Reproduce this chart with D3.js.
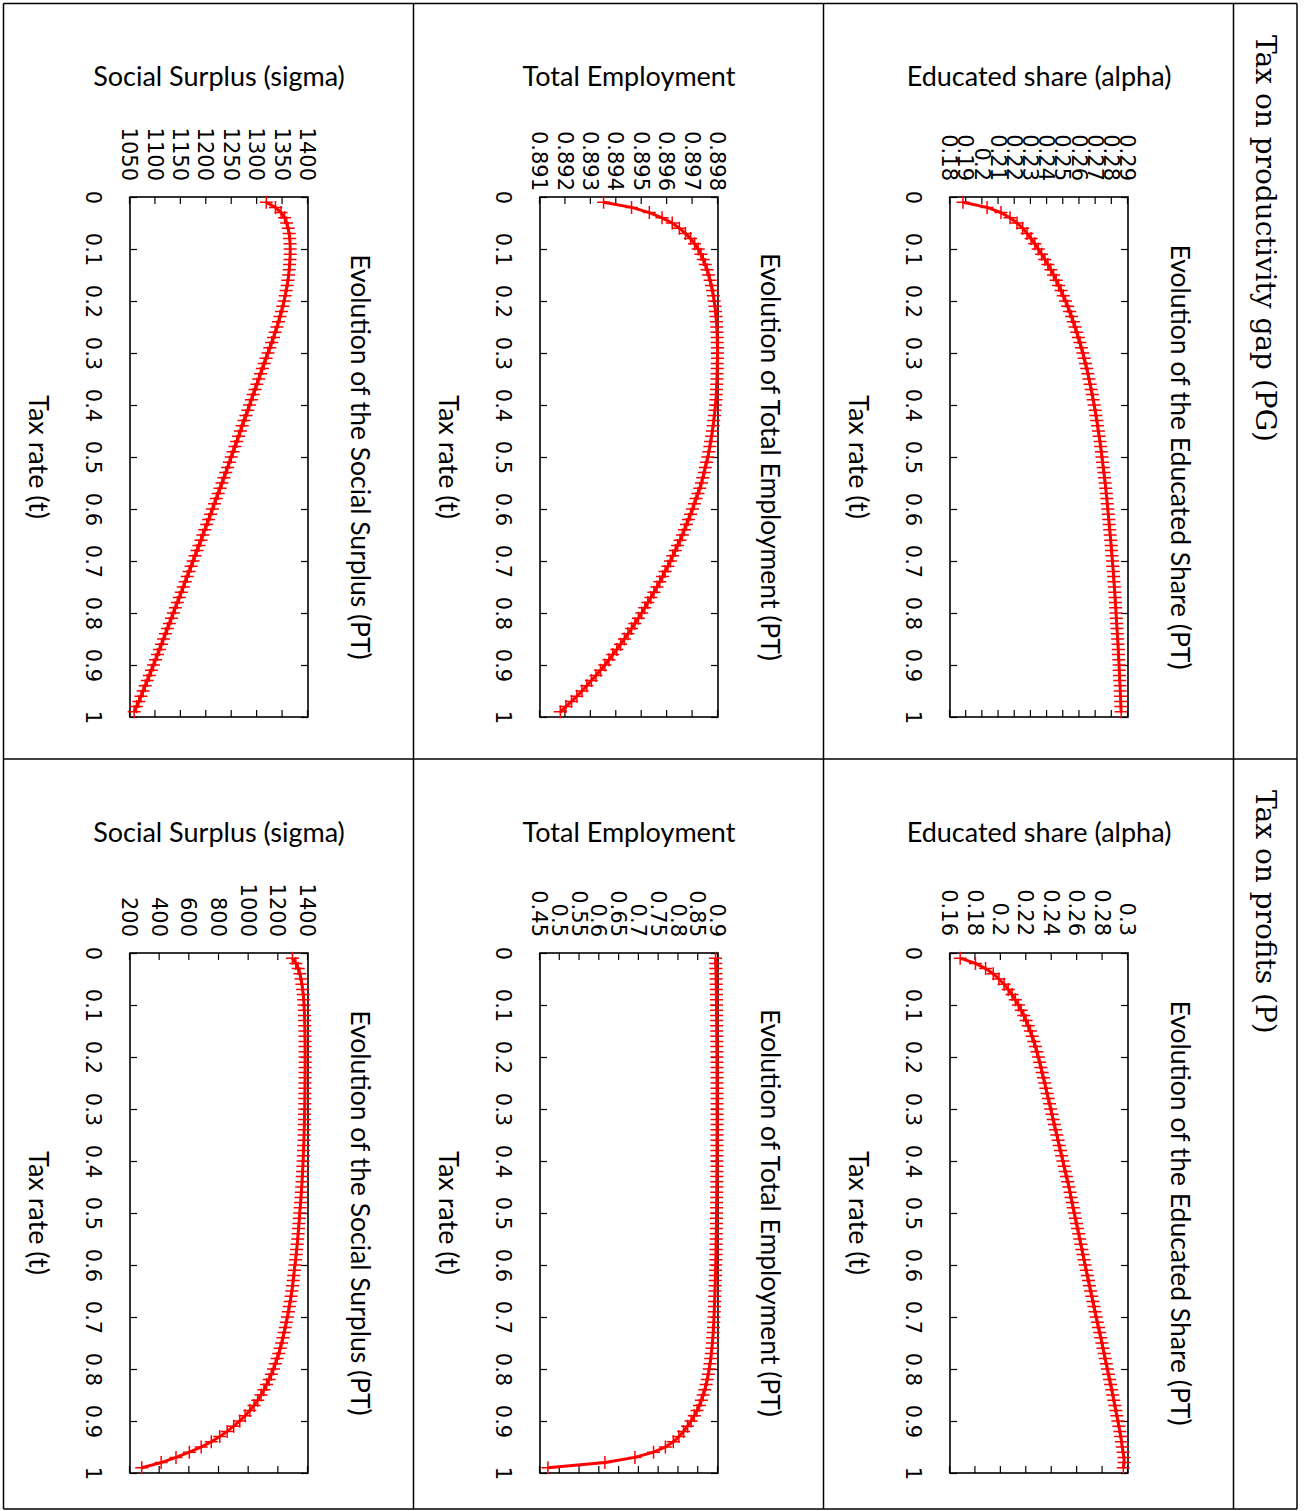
<!DOCTYPE html>
<html><head><meta charset="utf-8">
<script src="https://cdn.jsdelivr.net/npm/d3@7"></script>
<style>
body{margin:0;background:#fff;}
svg{display:block;}
text{font-family:Lato,"Open Sans",sans-serif;fill:#000;}
</style></head>
<body>
<svg id="c" width="1305" height="1511"></svg>
<script>
// ---------- data ----------
const taxRate = d3.range(1, 100).map(i => i / 100);   // 0.01 .. 0.99
const xTicks = [0,0.1,0.2,0.3,0.4,0.5,0.6,0.7,0.8,0.9,1];
const xTickLabels = ["0","0.1","0.2","0.3","0.4","0.5","0.6","0.7","0.8","0.9","1"];

const pgEducated = [0.1880,0.2029,0.2115,0.2171,0.2214,0.2249,0.2276,0.2301,0.2324,0.2345,
0.2366,0.2386,0.2405,0.2423,0.2440,0.2456,0.2471,0.2486,0.2500,0.2514,
0.2527,0.2539,0.2551,0.2562,0.2573,0.2583,0.2593,0.2603,0.2612,0.2621,
0.2629,0.2637,0.2645,0.2652,0.2659,0.2666,0.2673,0.2679,0.2685,0.2691,
0.2697,0.2702,0.2707,0.2712,0.2717,0.2722,0.2727,0.2731,0.2735,0.2739,
0.2743,0.2747,0.2751,0.2755,0.2759,0.2762,0.2766,0.2769,0.2772,0.2775,
0.2778,0.2781,0.2784,0.2787,0.2790,0.2793,0.2796,0.2798,0.2801,0.2804,
0.2806,0.2809,0.2811,0.2813,0.2816,0.2818,0.2820,0.2822,0.2824,0.2826,
0.2828,0.2830,0.2832,0.2834,0.2836,0.2838,0.2840,0.2841,0.2843,0.2845,
0.2846,0.2848,0.2849,0.2851,0.2852,0.2854,0.2855,0.2856,0.2858];

const pgEmployment = [0.89350,0.89460,0.89530,0.89580,0.89620,0.89648,0.89672,0.89692,0.89708,0.89722,
0.89733,0.89742,0.89750,0.89757,0.89763,0.89769,0.89774,0.89778,0.89782,0.89785,
0.89788,0.89790,0.89792,0.89794,0.89795,0.89796,0.89797,0.89797,0.89798,0.89798,
0.89798,0.89797,0.89797,0.89796,0.89796,0.89795,0.89794,0.89793,0.89792,0.89790,
0.89788,0.89786,0.89783,0.89781,0.89778,0.89775,0.89771,0.89768,0.89764,0.89760,
0.89755,0.89750,0.89746,0.89740,0.89735,0.89728,0.89721,0.89714,0.89707,0.89700,
0.89692,0.89684,0.89676,0.89668,0.89660,0.89651,0.89641,0.89632,0.89622,0.89613,
0.89603,0.89592,0.89582,0.89571,0.89560,0.89548,0.89536,0.89524,0.89512,0.89500,
0.89487,0.89473,0.89460,0.89446,0.89432,0.89417,0.89402,0.89386,0.89371,0.89355,
0.89338,0.89320,0.89302,0.89284,0.89265,0.89245,0.89224,0.89202,0.89180];

const pgSurplus = [1318,1336,1347,1354,1358,1361,1363,1364,1364.8,1365,
1365,1364.5,1363.8,1363,1362,1360.5,1359,1357.2,1355.2,1353,
1350.5,1347.8,1345,1342,1339,1335.6,1332.2,1328.6,1324.9,1321.2,
1317.5,1313.9,1310.3,1306.7,1303.1,1299.5,1295.9,1292.3,1288.7,1285.1,
1281.5,1277.9,1274.3,1270.7,1267.1,1263.5,1259.9,1256.3,1252.7,1249.1,
1245.5,1241.9,1238.2,1234.6,1230.9,1227.2,1223.5,1219.7,1216.0,1212.2,
1208.4,1204.6,1200.8,1197.0,1193.2,1189.4,1185.5,1181.7,1177.9,1174.0,
1170.2,1166.3,1162.5,1158.6,1154.8,1150.9,1147.0,1143.1,1139.2,1135.3,
1131.4,1127.5,1123.6,1119.7,1115.8,1111.9,1108.0,1104.1,1100.1,1096.1,
1092.1,1088.1,1084.0,1079.9,1075.8,1071.6,1067.3,1062.8,1058.2];

const pEducated = [0.1680,0.1800,0.1880,0.1940,0.1985,0.2025,0.2058,0.2088,0.2114,0.2138,
0.2160,0.2180,0.2198,0.2215,0.2232,0.2246,0.2259,0.2272,0.2284,0.2295,
0.2305,0.2315,0.2325,0.2335,0.2345,0.2354,0.2364,0.2373,0.2383,0.2392,
0.2402,0.2411,0.2421,0.2430,0.2440,0.2450,0.2459,0.2469,0.2478,0.2488,
0.2497,0.2507,0.2516,0.2526,0.2535,0.2544,0.2552,0.2561,0.2569,0.2578,
0.2586,0.2595,0.2603,0.2612,0.2620,0.2629,0.2637,0.2646,0.2654,0.2663,
0.2672,0.2680,0.2689,0.2697,0.2706,0.2715,0.2724,0.2732,0.2741,0.2750,
0.2759,0.2768,0.2777,0.2786,0.2795,0.2804,0.2812,0.2821,0.2829,0.2838,
0.2846,0.2855,0.2863,0.2872,0.2880,0.2888,0.2896,0.2904,0.2912,0.2920,
0.2928,0.2936,0.2943,0.2949,0.2955,0.2962,0.2968,0.2970,0.2963];

const pEmployment = [0.8938,0.8942,0.8946,0.8949,0.8952,0.8955,0.8957,0.8959,0.8961,0.8962,
0.8964,0.8965,0.8966,0.8967,0.8968,0.8969,0.8970,0.8971,0.8972,0.8973,
0.8973,0.8974,0.8974,0.8975,0.8975,0.8975,0.8976,0.8976,0.8976,0.8976,
0.8976,0.8976,0.8976,0.8976,0.8975,0.8975,0.8975,0.8974,0.8974,0.8973,
0.8973,0.8972,0.8971,0.8970,0.8969,0.8968,0.8967,0.8966,0.8965,0.8963,
0.8962,0.8960,0.8958,0.8956,0.8954,0.8952,0.8950,0.8947,0.8945,0.8942,
0.8938,0.8935,0.8931,0.8927,0.8923,0.8919,0.8915,0.8910,0.8905,0.8899,
0.8893,0.8886,0.8878,0.8869,0.8858,0.8846,0.8832,0.8816,0.8798,0.8778,
0.8755,0.8730,0.8700,0.8665,0.8625,0.8580,0.8530,0.8470,0.8400,0.8320,
0.8230,0.8130,0.8010,0.7870,0.7670,0.7370,0.6900,0.6140,0.4700];

const pSurplus = [1295,1318,1334,1345,1353,1359,1364,1368,1371,1373,
1375,1376.5,1377.5,1378.3,1379,1379.5,1380,1380.2,1380.4,1380.5,
1380.5,1380.4,1380.2,1380,1379.7,1379.4,1379,1378.6,1378.1,1377.5,
1376.9,1376.2,1375.4,1374.5,1373.5,1372.4,1371.2,1369.9,1368.5,1367,
1365.4,1363.6,1361.7,1359.7,1357.5,1355.2,1352.8,1350.2,1347.2,1344,
1341.5,1339,1336.3,1333.5,1330.5,1327.3,1323.9,1320.3,1316.3,1312,
1308,1304,1300,1296,1291,1286,1280,1274,1268,1261,
1254,1247,1239,1231,1222,1213,1203,1192,1180,1167,
1153,1138,1121,1103,1083,1061,1036,1008,976,940,
899,855,805,748,680,600,510,410,279];

const pgEduTicks = [0.18,0.19,0.2,0.21,0.22,0.23,0.24,0.25,0.26,0.27,0.28,0.29];
const pgEduTickLabels = ["0.18","0.19","0.2","0.21","0.22","0.23","0.24","0.25","0.26","0.27","0.28","0.29"];
const pgEmpTicks = [0.891,0.892,0.893,0.894,0.895,0.896,0.897,0.898];
const pgEmpTickLabels = ["0.891","0.892","0.893","0.894","0.895","0.896","0.897","0.898"];
const pgSurTicks = [1050,1100,1150,1200,1250,1300,1350,1400];
const pgSurTickLabels = ["1050","1100","1150","1200","1250","1300","1350","1400"];
const pEduTicks = [0.16,0.18,0.2,0.22,0.24,0.26,0.28,0.3];
const pEduTickLabels = ["0.16","0.18","0.2","0.22","0.24","0.26","0.28","0.3"];
const pEmpTicks = [0.45,0.5,0.55,0.6,0.65,0.7,0.75,0.8,0.85,0.9];
const pEmpTickLabels = ["0.45","0.5","0.55","0.6","0.65","0.7","0.75","0.8","0.85","0.9"];
const pSurTicks = [200,400,600,800,1000,1200,1400];
const pSurTickLabels = ["200","400","600","800","1000","1200","1400"];

const rowHeaders = ["Tax on productivity gap (PG)", "Tax on profits (P)"];
const yLabels = ["Social Surplus (sigma)", "Total Employment", "Educated share (alpha)"];
const titles = ["Evolution of the Social Surplus (PT)", "Evolution of Total Employment (PT)", "Evolution of the Educated Share (PT)"];
const xLabel = "Tax rate (t)";

// ---------- layout ----------
const svg = d3.select("#c");
const W = 520, H = 178;          // un-rotated plot size
const colLeft = [130, 540, 950];
const rowTop = [197, 953];
const tickFont = "'DejaVu Sans',Verdana,sans-serif";

const panels = [
  {row:0,col:2,vals:pgEducated,dom:[0.18,0.29],ticks:pgEduTicks,labels:pgEduTickLabels,gap:16},
  {row:0,col:1,vals:pgEmployment,dom:[0.891,0.898],ticks:pgEmpTicks,labels:pgEmpTickLabels,gap:6},
  {row:0,col:0,vals:pgSurplus,dom:[1050,1400],ticks:pgSurTicks,labels:pgSurTickLabels,gap:16},
  {row:1,col:2,vals:pEducated,dom:[0.16,0.30],ticks:pEduTicks,labels:pEduTickLabels,gap:17},
  {row:1,col:1,vals:pEmployment,dom:[0.45,0.9],ticks:pEmpTicks,labels:pEmpTickLabels,gap:16},
  {row:1,col:0,vals:pSurplus,dom:[200,1400],ticks:pSurTicks,labels:pSurTickLabels,gap:16}
];

// table grid
const gridX = [3.5, 413.5, 823.5, 1233.5, 1297];
const gridY = [3.5, 759, 1509];
gridX.forEach(x => svg.append("line").attr("x1",x).attr("x2",x).attr("y1",gridY[0]).attr("y2",gridY[2])
  .attr("stroke","#000").attr("stroke-width",1.5));
gridY.forEach(y => svg.append("line").attr("x1",gridX[0]).attr("x2",gridX[4]).attr("y1",y).attr("y2",y)
  .attr("stroke","#000").attr("stroke-width",1.5));

// row headers (rotated)
rowHeaders.forEach((t,i) => {
  svg.append("text").attr("transform",`translate(1266,${[35,790][i]}) rotate(90)`)
    .attr("dy","0.35em").attr("text-anchor","start")
    .style("font-family","'DejaVu Serif','Liberation Serif',serif").style("font-size","28px")
    .text(t);
});

const x = d3.scaleLinear().domain([0,1]).range([0,W]);

panels.forEach(p => {
  const left = colLeft[p.col], top = rowTop[p.row];
  const y = d3.scaleLinear().domain(p.dom).range([H,0]);

  // horizontal y-label in screen space
  svg.append("text").attr("x", left + H/2).attr("y", top - 120).attr("dy","0.35em")
    .attr("text-anchor","middle").style("font-size","27px").text(yLabels[p.col]);

  const g = svg.append("g").attr("transform",`translate(${left+H},${top}) rotate(90)`);

  // axes (inward ticks, mirrored)
  const ax = g.append("g").attr("transform",`translate(0,${H})`)
    .call(d3.axisBottom(x).tickValues(xTicks).tickFormat((d,i)=>xTickLabels[i]).tickSizeInner(-7).tickSizeOuter(0));
  ax.selectAll("text").attr("y",37).attr("dy","0.35em");
  g.append("g").call(d3.axisTop(x).tickValues(xTicks).tickFormat("").tickSizeInner(-7).tickSizeOuter(0));
  const ay = g.append("g")
    .call(d3.axisLeft(y).tickValues(p.ticks).tickFormat((d,i)=>p.labels[i]).tickSizeInner(-7).tickSizeOuter(0));
  ay.selectAll("text").attr("x",-p.gap).attr("dy","0.35em");
  g.append("g").attr("transform",`translate(${W},0)`)
    .call(d3.axisRight(y).tickValues(p.ticks).tickFormat("").tickSizeInner(-7).tickSizeOuter(0));
  g.selectAll(".domain").remove();
  g.selectAll(".tick line").attr("stroke","#000").attr("stroke-width",1.2);
  g.selectAll(".tick text").style("font-family",tickFont).style("font-size","21px").attr("fill","#000");

  g.append("rect").attr("width",W).attr("height",H).attr("fill","none")
    .attr("stroke","#000").attr("stroke-width",1.6);

  // title & x label
  g.append("text").attr("x",W/2).attr("y",-52).attr("dy","0.35em").attr("text-anchor","middle")
    .style("font-size","26.5px").text(titles[p.col]);
  g.append("text").attr("x",W/2).attr("y",270).attr("dy","0.35em").attr("text-anchor","middle")
    .style("font-size","27px").text(xLabel);

  const data = taxRate.map((t,i)=>[t,p.vals[i]]);
  g.append("path").datum(data)
    .attr("d", d3.line().x(d=>x(d[0])).y(d=>y(d[1])))
    .attr("fill","none").attr("stroke","#ff0000").attr("stroke-width",3);
  g.append("g").selectAll("path").data(data).join("path")
    .attr("transform", d=>`translate(${x(d[0])},${y(d[1])})`)
    .attr("d","M-6.5,0H6.5M0,-6.5V6.5")
    .attr("stroke","#ff0000").attr("stroke-width",1.5).attr("fill","none");
});
</script>
</body></html>
